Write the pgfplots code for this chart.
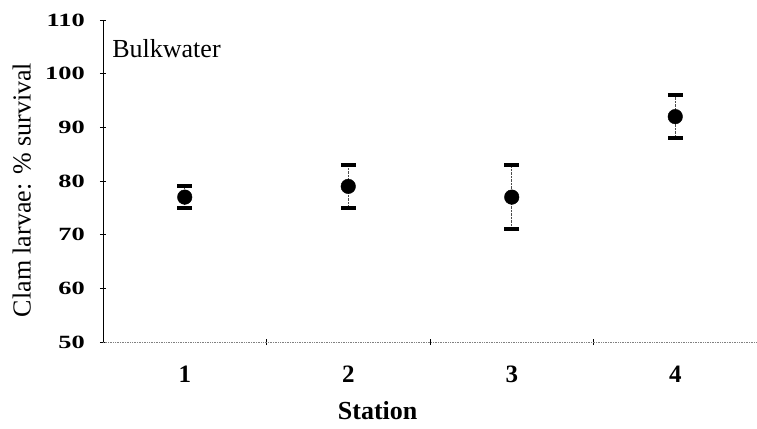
\documentclass[border=0pt]{standalone}
\usepackage{graphicx}
\usepackage{pgfplots}
\pgfplotsset{compat=1.18}
\usepackage{fontspec}
\setmainfont{Liberation Serif}
% wide bold numerals for the y axis
\newcommand{\yt}[1]{\fontsize{22}{25}\selectfont\bfseries\scalebox{1.2}[0.85]{#1}}

\begin{document}
\begin{tikzpicture}
\path[use as bounding box] (-103pt,-86pt) rectangle (654pt,342pt);
\begin{axis}[
  scale only axis,
  width=654pt, height=322pt,
  xmin=0.5, xmax=4.5,
  ymin=50, ymax=110,
  ytick={50,60,70,80,90,100,110},
  yticklabels={\yt{50},\yt{60},\yt{70},\yt{80},\yt{90},\yt{100},\yt{110}},
  axis x line*=bottom,
  axis y line*=left,
  x axis line style={draw=gray, densely dotted, line width=0.7pt},
  y axis line style={draw=black, line width=0.6pt},
  % category separators on the x axis
  xtick={1.5,2.5,3.5},
  xticklabels={},
  % station names, without tick marks
  extra x ticks={1,2,3,4},
  extra x tick labels={1,2,3,4},
  extra x tick style={major tick length=0pt},
  tick align=center,
  major tick length=6pt,
  tick style={black, line width=0.6pt},
  xticklabel style={font=\fontsize{25}{28}\selectfont\bfseries, anchor=base, yshift=-40pt},
  yticklabel style={anchor=east, inner sep=0pt, xshift=-15pt},
  xlabel={\textbf{Station}},
  ylabel={Clam larvae: \% survival},
  every axis x label/.style={at={(axis description cs:0.42,-0.242)}, anchor=base,
     font=\fontsize{26}{30}\selectfont},
  every axis y label/.style={at={(axis description cs:-0.124,0.472)}, rotate=90, anchor=center,
     font=\fontsize{26}{30}\selectfont},
  clip=false,
]
\addplot[
  only marks,
  mark=*, mark size=7.3pt,
  mark options={fill=black, draw=black},
  error bars/.cd,
    y dir=both, y explicit,
    error bar style={draw=gray!60!black, densely dotted, line width=0.8pt},
    error mark=|,
    error mark options={solid, black, line width=4pt, mark size=7.5pt},
] table[x=st, y=surv, y error=err] {
st surv err
1  77  2
2  79  4
3  77  6
4  92  4
};
\node[anchor=base west, font=\fontsize{26}{30}\selectfont, inner sep=0pt]
  at (axis description cs:0.014,0.885) {Bulkwater};
\end{axis}
\end{tikzpicture}
\end{document}
